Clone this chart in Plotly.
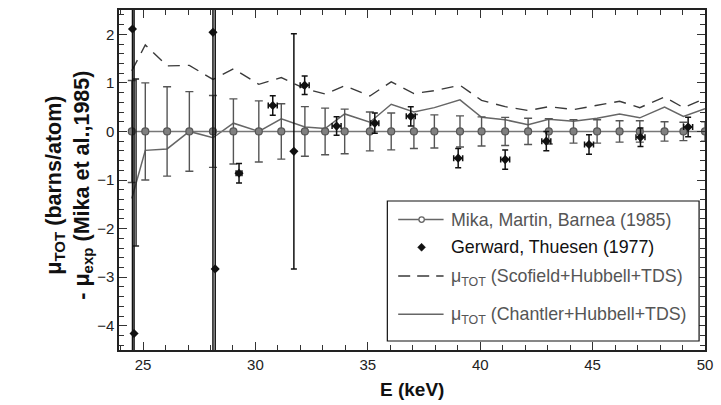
import plotly.graph_objects as go

# ---------------- data ----------------
mika_e = [24.5, 25.1, 26.07, 27.06, 28.11, 29.02, 30.15, 31.15, 32.2, 33.1, 33.97, 35.09, 36.04,
          37.05, 37.96, 39.1, 40.06, 41.11, 42.13, 43.05, 44.15, 45.2, 46.2, 47.1, 48.2, 49.04, 50.0]
mika_val = [0.0] * len(mika_e)
mika_err = [1.05, 1.0, 0.92, 0.82, 0.74, 0.67, 0.63, 0.57, 0.51, 0.48, 0.46, 0.4, 0.38,
            0.35, 0.34, 0.32, 0.3, 0.29, 0.27, 0.26, 0.24, 0.24, 0.22, 0.22, 0.2, 0.19, 0.2]

scofield_val = [1.25, 1.78, 1.35, 1.36, 1.07, 1.29, 0.97, 1.11, 0.88, 0.77, 0.94, 0.73, 1.02,
                0.78, 0.84, 0.95, 0.64, 0.51, 0.43, 0.51, 0.45, 0.53, 0.62, 0.49, 0.71, 0.49, 0.68]
chantler_val = [-1.38, -0.39, -0.36, 0.0, -0.13, 0.17, 0.0, 0.26, 0.09, 0.06, 0.36, 0.19, 0.56,
                0.4, 0.49, 0.65, 0.29, 0.24, 0.14, 0.25, 0.21, 0.27, 0.36, 0.28, 0.5, 0.31, 0.47]

gerward_e = [24.53, 24.60, 28.11, 28.21, 29.27, 30.77, 31.71, 32.19, 33.61, 35.31, 36.91,
             39.02, 41.11, 42.94, 44.84, 47.13, 49.25]
gerward_val = [2.11, -4.16, 2.04, -2.83, -0.86, 0.535, -0.41, 0.95, 0.11, 0.17, 0.31,
               -0.55, -0.58, -0.2, -0.27, -0.12, 0.09]
gerward_err = [9, 9, 9, 9, 0.2, 0.2, 2.42, 0.19, 0.19, 0.21, 0.2,
               0.2, 0.2, 0.2, 0.2, 0.19, 0.2]
gerward_xerr = [0, 0, 0, 0, 0.13, 0.2, 0, 0.2, 0.2, 0.18, 0.2,
                0.2, 0.2, 0.2, 0.2, 0.2, 0.2]
# error bar whose centre marker is not visible in the figure
gerward_hidden_e = [24.69]
gerward_hidden_val = [-0.64]
gerward_hidden_err = [1.72]

legend_labels = ["Mika, Martin, Barnea (1985)", "Gerward, Thuesen (1977)",
                 "μ<sub>TOT</sub> (Scofield+Hubbell+TDS)", "μ<sub>TOT</sub> (Chantler+Hubbell+TDS)"]

FONT = "Liberation Sans, Arial, sans-serif"

fig = go.Figure()

fig.add_trace(go.Scatter(
    x=mika_e, y=scofield_val, mode="lines", name=legend_labels[2],
    line=dict(color="#3a3a3a", width=1.4, dash="12px,8px"), showlegend=False))
fig.add_trace(go.Scatter(
    x=mika_e, y=chantler_val, mode="lines", name=legend_labels[3],
    line=dict(color="#666666", width=1.5), showlegend=False))
fig.add_trace(go.Scatter(
    x=mika_e, y=mika_val, mode="lines+markers", name=legend_labels[0],
    line=dict(color="#777777", width=1.6),
    marker=dict(symbol="circle", size=7, color="#808080", line=dict(color="#555555", width=1.2)),
    error_y=dict(type="data", array=mika_err, visible=True, color="#555555", thickness=1.4, width=4),
    showlegend=False))
fig.add_trace(go.Scatter(
    x=gerward_hidden_e, y=gerward_hidden_val, mode="markers", name=legend_labels[1],
    marker=dict(size=1, color="rgba(0,0,0,0)"),
    error_y=dict(type="data", array=gerward_hidden_err, visible=True, color="#222222", thickness=1.4, width=3),
    showlegend=False))
fig.add_trace(go.Scatter(
    x=gerward_e, y=gerward_val, mode="markers", name=legend_labels[1],
    marker=dict(symbol="diamond", size=7, color="#111111"),
    error_y=dict(type="data", array=gerward_err, visible=True, color="#111111", thickness=1.5, width=3),
    error_x=dict(type="data", array=gerward_xerr, visible=True, color="#111111", thickness=1.5, width=3),
    showlegend=False))

# ---------------- manual legend (page pixel -> paper coords) ----------------
def px_x(p):
    return (p - 119) / 594.0

def px_y(p):
    return (350 - p) / 340.0

shapes = []
shapes.append(dict(type="rect", xref="paper", yref="paper", x0=px_x(391), x1=px_x(707),
                   y0=px_y(341), y1=px_y(201), line=dict(color="#111111", width=1.2),
                   fillcolor="white", layer="above"))
# Mika entry
shapes.append(dict(type="line", xref="paper", yref="paper", x0=px_x(402), x1=px_x(448),
                   y0=px_y(219.5), y1=px_y(219.5), line=dict(color="#666666", width=1.5), layer="above"))
shapes.append(dict(type="circle", xref="paper", yref="paper", x0=px_x(423), x1=px_x(428.5),
                   y0=px_y(222.3), y1=px_y(216.8), line=dict(color="#666666", width=1.3),
                   fillcolor="white", layer="above"))
# Gerward entry (diamond)
cx, cy, r = 425.7, 247.3, 4
shapes.append(dict(type="path", xref="paper", yref="paper",
                   path="M {} {} L {} {} L {} {} L {} {} Z".format(
                       px_x(cx - r), px_y(cy), px_x(cx), px_y(cy - r),
                       px_x(cx + r), px_y(cy), px_x(cx), px_y(cy + r)),
                   fillcolor="#111111", line=dict(color="#111111", width=0.5), layer="above"))
# Scofield entry
shapes.append(dict(type="line", xref="paper", yref="paper", x0=px_x(402), x1=px_x(448),
                   y0=px_y(276), y1=px_y(276), line=dict(color="#3a3a3a", width=1.4, dash="12px,7px"),
                   layer="above"))
# Chantler entry
shapes.append(dict(type="line", xref="paper", yref="paper", x0=px_x(402), x1=px_x(448),
                   y0=px_y(314.3), y1=px_y(314.3), line=dict(color="#666666", width=1.5), layer="above"))

annotations = []
leg_y = [220, 247, 277, 315]
leg_col = ["#555555", "#111111", "#555555", "#555555"]
for lab, yy, col in zip(legend_labels, leg_y, leg_col):
    annotations.append(dict(text=lab, xref="paper", yref="paper", x=px_x(454), y=px_y(yy),
                            xanchor="left", yanchor="middle", showarrow=False,
                            font=dict(family=FONT, size=17.8, color=col)))

# axis titles
annotations.append(dict(text="<b>μ<sub>TOT</sub> (barns/atom)</b><br><b>- μ<sub>exp</sub> (Mika et al.,1985)</b>",
                        xref="paper", yref="paper", x=px_x(68), y=px_y(185), textangle=-90,
                        xanchor="center", yanchor="middle", showarrow=False,
                        font=dict(family=FONT, size=21.5, color="#111111")))
annotations.append(dict(text="<b>E (keV)</b>", xref="paper", yref="paper", x=px_x(416), y=px_y(389),
                        xanchor="center", yanchor="middle", showarrow=False,
                        font=dict(family=FONT, size=19, color="#111111")))

fig.update_layout(
    width=721, height=405,
    margin=dict(l=119, r=8, t=10, b=55),
    paper_bgcolor="white", plot_bgcolor="white",
    font=dict(family=FONT, size=15, color="#222222"),
    shapes=shapes, annotations=annotations,
    showlegend=False,
)
fig.update_xaxes(
    range=[23.93, 50.0], tickmode="linear", tick0=25, dtick=5,
    ticks="inside", ticklen=8, tickwidth=1.3, tickcolor="#333333",
    minor=dict(dtick=1, tick0=25, ticks="inside", ticklen=5, tickwidth=1.2, tickcolor="#333333"),
    showline=True, linecolor="#222222", linewidth=1.5, mirror="allticks",
    showgrid=False, zeroline=False,
    tickfont=dict(family=FONT, size=15, color="#222222"),
)
fig.update_yaxes(
    range=[-4.5, 2.5], tickmode="linear", tick0=0, dtick=1,
    ticks="inside", ticklen=8, tickwidth=1.3, tickcolor="#333333",
    minor=dict(dtick=0.2, tick0=0, ticks="inside", ticklen=5, tickwidth=1.2, tickcolor="#333333"),
    showline=True, linecolor="#222222", linewidth=1.5, mirror="allticks",
    showgrid=False, zeroline=False,
    tickfont=dict(family=FONT, size=15, color="#222222"),
)

# remove the page's default 8px body margin so the 721x405 figure fills the window exactly
fig.write_html("out.html", config={"displayModeBar": False},
               post_script="document.body.style.margin='0';document.body.style.overflow='hidden';")
